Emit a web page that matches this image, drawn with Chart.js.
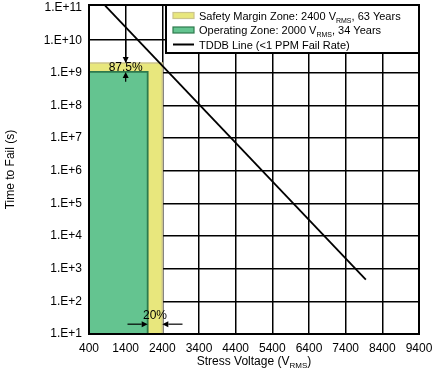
<!DOCTYPE html>
<html>
<head>
<meta charset="utf-8">
<script src="https://cdn.jsdelivr.net/npm/chart.js@4.4.1/dist/chart.umd.min.js"></script>
<style>
  html, body { margin:0; padding:0; background:#fff; }
  canvas { display:block; }
</style>
</head>
<body>
<canvas id="tddbChart" width="436" height="371"></canvas>
<script>
// ── DATA ──────────────────────────────────────────────────
const xTicks = [400, 1400, 2400, 3400, 4400, 5400, 6400, 7400, 8400, 9400];
const yTicks = [1e1, 1e2, 1e3, 1e4, 1e5, 1e6, 1e7, 1e8, 1e9, 1e10, 1e11];
const yTickLabels = ['1.E+1','1.E+2','1.E+3','1.E+4','1.E+5','1.E+6','1.E+7','1.E+8','1.E+9','1.E+10','1.E+11'];

// zones: [safety margin, operating]
const zoneNames   = ['Safety Margin Zone', 'Operating Zone'];
const zoneVolts   = [2400, 2000];
const zoneYears   = [63, 34];
const zoneSeconds = [1.99e9, 1.07e9];

// TDDB line (<1 PPM fail rate)
const tddbVolts   = [840, 7950];
const tddbSeconds = [1.15e11, 460];

const marginLabels = ['87.5%', '20%'];

const FONT = "'Liberation Sans', Arial, sans-serif";
const zoneFill   = ['#e8e77d', '#64c490'];
const zoneBorder = ['#cbc48c', '#2e7a4d'];

// ── helpers ───────────────────────────────────────────────
function zonePoints(i) {
  return [
    { x: xTicks[0], y: yTicks[0] },
    { x: xTicks[0], y: zoneSeconds[i] },
    { x: zoneVolts[i], y: zoneSeconds[i] },
    { x: zoneVolts[i], y: yTicks[0] }
  ];
}

// text with a subscript part, e.g. V<sub>RMS</sub>
function drawRich(ctx, segs, x, y, align, size, subSize) {
  const font = s => (s.sub ? subSize : size) + 'px ' + FONT;
  const w = segs.map(s => { ctx.font = font(s); return ctx.measureText(s.t).width; });
  let cx = align === 'center' ? x - w.reduce((a, b) => a + b, 0) / 2 : x;
  ctx.textAlign = 'left';
  ctx.textBaseline = 'alphabetic';
  segs.forEach((s, i) => {
    ctx.font = font(s);
    ctx.fillText(s.t, cx, y + (s.sub ? 3 : 0));
    cx += w[i];
  });
}

function arrow(ctx, x1, y1, x2, y2) {
  const a = Math.atan2(y2 - y1, x2 - x1), L = 6, W = 3;
  const bx = x2 - L * Math.cos(a), by = y2 - L * Math.sin(a);
  ctx.beginPath();
  ctx.moveTo(x1, y1); ctx.lineTo(bx, by);
  ctx.stroke();
  ctx.beginPath();
  ctx.moveTo(x2, y2);
  ctx.lineTo(bx + W * Math.sin(a), by - W * Math.cos(a));
  ctx.lineTo(bx - W * Math.sin(a), by + W * Math.cos(a));
  ctx.closePath();
  ctx.fill();
}

// ── frame, legend, callouts, axis titles ──────────────────
const decor = {
  id: 'decor',
  afterDatasetsDraw(chart) {
    const { ctx, chartArea: a, scales: { x, y } } = chart;
    ctx.save();
    ctx.strokeStyle = '#000';
    ctx.fillStyle = '#000';

    // plot frame
    ctx.lineWidth = 2;
    ctx.strokeRect(a.left, a.top, a.right - a.left, a.bottom - a.top);

    // legend box
    const lx = 166, ly = a.top, lw = a.right - lx, lh = 48;
    ctx.fillStyle = '#fff';
    ctx.fillRect(lx, ly, lw, lh);
    ctx.strokeRect(lx, ly, lw, lh);
    const rows = [ly + 10.5, ly + 25, ly + 39.5];
    zoneNames.forEach((n, i) => {
      ctx.fillStyle = zoneFill[i];
      ctx.strokeStyle = zoneBorder[i];
      ctx.lineWidth = 1.2;
      ctx.fillRect(173, rows[i] - 3, 21, 6);
      ctx.strokeRect(173, rows[i] - 3, 21, 6);
      ctx.fillStyle = '#000';
      drawRich(ctx, [{ t: n + ': ' + zoneVolts[i] + ' V' }, { t: 'RMS', sub: true },
                     { t: ', ' + zoneYears[i] + ' Years' }], 199, rows[i] + 4, 'left', 11, 7);
    });
    ctx.strokeStyle = '#000';
    ctx.lineWidth = 2;
    ctx.beginPath(); ctx.moveTo(173, rows[2]); ctx.lineTo(194, rows[2]); ctx.stroke();
    ctx.fillStyle = '#000';
    drawRich(ctx, [{ t: 'TDDB Line (<1 PPM Fail Rate)' }], 199, rows[2] + 4, 'left', 11, 7);

    // 87.5% callout
    ctx.lineWidth = 1.2;
    const ax = x.getPixelForValue(1400);
    const yTop = y.getPixelForValue(zoneSeconds[0]);
    const yOp = y.getPixelForValue(zoneSeconds[1]);
    arrow(ctx, ax, y.getPixelForValue(1e10), ax, yTop);
    arrow(ctx, ax, y.getPixelForValue(5.3e8), ax, yOp);
    ctx.font = '12px ' + FONT;
    ctx.textAlign = 'center';
    ctx.textBaseline = 'middle';
    ctx.fillText(marginLabels[0], ax, (yTop + yOp) / 2 + 0.5);

    // 20% callout
    const ay = y.getPixelForValue(20);
    const xOp = x.getPixelForValue(zoneVolts[1]);
    const xSafe = x.getPixelForValue(zoneVolts[0]);
    arrow(ctx, x.getPixelForValue(1450), ay, xOp, ay);
    arrow(ctx, x.getPixelForValue(2950), ay, xSafe, ay);
    ctx.textAlign = 'center';
    ctx.textBaseline = 'middle';
    ctx.fillText(marginLabels[1], (xOp + xSafe) / 2, y.getPixelForValue(36));

    // axis titles
    ctx.fillStyle = '#000';
    drawRich(ctx, [{ t: 'Stress Voltage (V' }, { t: 'RMS', sub: true }, { t: ')' }],
             (a.left + a.right) / 2, 365, 'center', 12, 8);
    ctx.translate(13.5, (a.top + a.bottom) / 2);
    ctx.rotate(-Math.PI / 2);
    ctx.font = '12px ' + FONT;
    ctx.textAlign = 'center';
    ctx.textBaseline = 'alphabetic';
    ctx.fillText('Time to Fail (s)', 0, 0);
    ctx.restore();
  }
};

// ── CHART ─────────────────────────────────────────────────
Chart.defaults.font.family = FONT;
Chart.defaults.font.size = 12;
Chart.defaults.color = '#000';

new Chart(document.getElementById('tddbChart').getContext('2d'), {
  type: 'line',
  data: {
    datasets: [
      {
        label: 'TDDB Line (<1 PPM Fail Rate)',
        data: tddbVolts.map((v, i) => ({ x: v, y: tddbSeconds[i] })),
        borderColor: '#000',
        borderWidth: 1.8,
        pointRadius: 0,
        fill: false,
        order: 1
      },
      {
        label: zoneNames[1],
        data: zonePoints(1),
        borderColor: zoneBorder[1],
        backgroundColor: zoneFill[1],
        borderWidth: 1.8,
        pointRadius: 0,
        fill: 'start',
        order: 2
      },
      {
        label: zoneNames[0],
        data: zonePoints(0),
        borderColor: zoneBorder[0],
        backgroundColor: zoneFill[0],
        borderWidth: 1.5,
        pointRadius: 0,
        fill: 'start',
        order: 3
      }
    ]
  },
  options: {
    responsive: false,
    animation: false,
    events: [],
    layout: { padding: { top: 5, right: 17, left: 0, bottom: 0 } },
    plugins: { legend: { display: false }, tooltip: { enabled: false } },
    scales: {
      x: {
        type: 'linear',
        min: xTicks[0],
        max: xTicks[xTicks.length - 1],
        afterBuildTicks: s => { s.ticks = xTicks.map(v => ({ value: v })); },
        afterFit: s => { s.height = 37; s.paddingLeft = 0; s.paddingRight = 0; },
        ticks: { callback: v => String(v), padding: 7, maxRotation: 0, autoSkip: false },
        grid: { color: '#000', lineWidth: 1.5, drawTicks: false },
        border: { display: false }
      },
      y: {
        type: 'logarithmic',
        min: yTicks[0],
        max: 1.2e11,
        afterBuildTicks: s => { s.ticks = yTicks.map(v => ({ value: v })); },
        afterFit: s => { s.width = 89; s.paddingTop = 0; s.paddingBottom = 0; },
        ticks: {
          callback: v => yTickLabels[yTicks.indexOf(v)],
          padding: 7,
          autoSkip: false
        },
        grid: {
          color: c => (c.tick && c.tick.value === yTicks[yTicks.length - 1]) ? 'rgba(0,0,0,0)' : '#000',
          lineWidth: 1.5,
          drawTicks: false
        },
        border: { display: false }
      }
    }
  },
  plugins: [decor]
});
</script>
</body>
</html>
